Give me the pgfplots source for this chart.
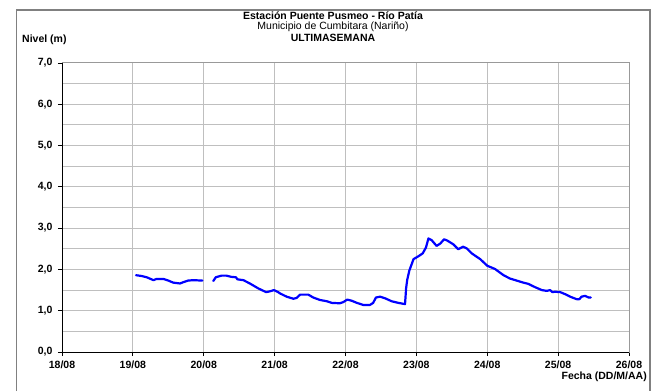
\documentclass[border=0pt]{standalone}
\usepackage{pgfplots}
\pgfplotsset{compat=1.18}
\usepackage{fontspec}
\setmainfont{Liberation Sans}
\begin{document}
\begin{tikzpicture}[x=1pt,y=1pt]
\useasboundingbox (-62,-39) rectangle (598,352);
\begin{axis}[
  scale only axis, width=567pt, height=289pt,
  at={(0,0)}, anchor=south west,
  xmin=0, xmax=8, ymin=0, ymax=7,
  xtick={0,1,2,3,4,5,6,7,8},
  xticklabels={18/08,19/08,20/08,21/08,22/08,23/08,24/08,25/08,26/08},
  ytick={0,1,2,3,4,5,6,7},
  yticklabels={{0,0},{1,0},{2,0},{3,0},{4,0},{5,0},{6,0},{7,0}},
  minor ytick={0.5,1.5,2.5,3.5,4.5,5.5,6.5},
  xmajorgrids, ymajorgrids, yminorgrids,
  major grid style={draw=black!25, line width=1pt},
  minor grid style={draw=black!25, line width=1pt},
  minor tick length=0pt,
  major tick length=4pt,
  tick align=outside,
  xtick pos=bottom, ytick pos=left,
  axis line style={draw=black!40, line width=1pt},
  tick style={black, line width=0.8pt},
  ticklabel style={font=\fontsize{10.5}{12}\selectfont\bfseries},
  xticklabel style={yshift=-1pt},
  yticklabel style={xshift=-2pt},
]
\addplot[blue, line width=2.2pt, line join=round, line cap=round] coordinates {
(1.045,1.86)(1.125,1.84)(1.195,1.81)(1.29,1.74)(1.335,1.77)(1.43,1.77)(1.50,1.73)(1.57,1.68)(1.665,1.66)(1.71,1.69)(1.78,1.73)(1.85,1.74)(1.98,1.73)
};
\addplot[blue, line width=2.2pt, line join=round, line cap=round] coordinates {
(2.135,1.72)(2.17,1.81)(2.25,1.85)(2.32,1.85)(2.39,1.82)(2.455,1.81)(2.475,1.76)(2.56,1.74)(2.65,1.66)(2.77,1.54)(2.88,1.45)(2.935,1.47)(2.99,1.50)(3.05,1.45)(3.075,1.42)(3.17,1.34)(3.265,1.29)(3.31,1.31)(3.36,1.39)(3.475,1.39)(3.545,1.32)(3.64,1.26)(3.735,1.23)(3.805,1.19)(3.92,1.18)(3.97,1.21)(4.025,1.27)(4.09,1.24)(4.16,1.19)(4.25,1.14)(4.345,1.14)(4.39,1.19)(4.43,1.32)(4.49,1.34)(4.56,1.30)(4.65,1.23)(4.745,1.19)(4.84,1.16)(4.855,1.54)(4.87,1.74)(4.90,1.97)(4.96,2.25)(5.03,2.32)(5.09,2.39)(5.135,2.53)(5.17,2.75)(5.215,2.71)(5.285,2.57)(5.34,2.63)(5.39,2.73)(5.435,2.70)(5.52,2.61)(5.59,2.49)(5.66,2.55)(5.71,2.51)(5.78,2.39)(5.90,2.25)(6.00,2.09)(6.11,2.01)(6.23,1.86)(6.32,1.78)(6.415,1.73)(6.51,1.68)(6.58,1.65)(6.675,1.57)(6.77,1.50)(6.84,1.48)(6.885,1.50)(6.92,1.45)(6.955,1.46)(7.03,1.45)(7.10,1.40)(7.17,1.34)(7.26,1.28)(7.30,1.28)(7.33,1.34)(7.38,1.36)(7.43,1.32)(7.46,1.32)
};
\draw[black, line width=1pt] (axis cs:0,7) -- (axis cs:0,0) -- (axis cs:8,0);
\end{axis}
\draw[black!50, line width=1.3pt] (-45.3,-39) -- (-45.3,342) -- (588,342) -- (588,-39);
\node[font=\fontsize{10.5}{12}\selectfont\bfseries] at (271,336) {Estación Puente Pusmeo - Río Patía};
\node[font=\fontsize{10.5}{12}\selectfont] at (271,325) {Municipio de Cumbitara (Nariño)};
\node[font=\fontsize{10.5}{12}\selectfont\bfseries] at (271,314.5) {ULTIMASEMANA};
\node[font=\fontsize{10.5}{12}\selectfont\bfseries, anchor=west, inner sep=0pt] at (-40,312) {Nivel (m)};
\node[font=\fontsize{10.5}{12}\selectfont\bfseries, anchor=east, inner sep=0pt] at (585,-25) {Fecha (DD/M/AA)};
\end{tikzpicture}
\end{document}
